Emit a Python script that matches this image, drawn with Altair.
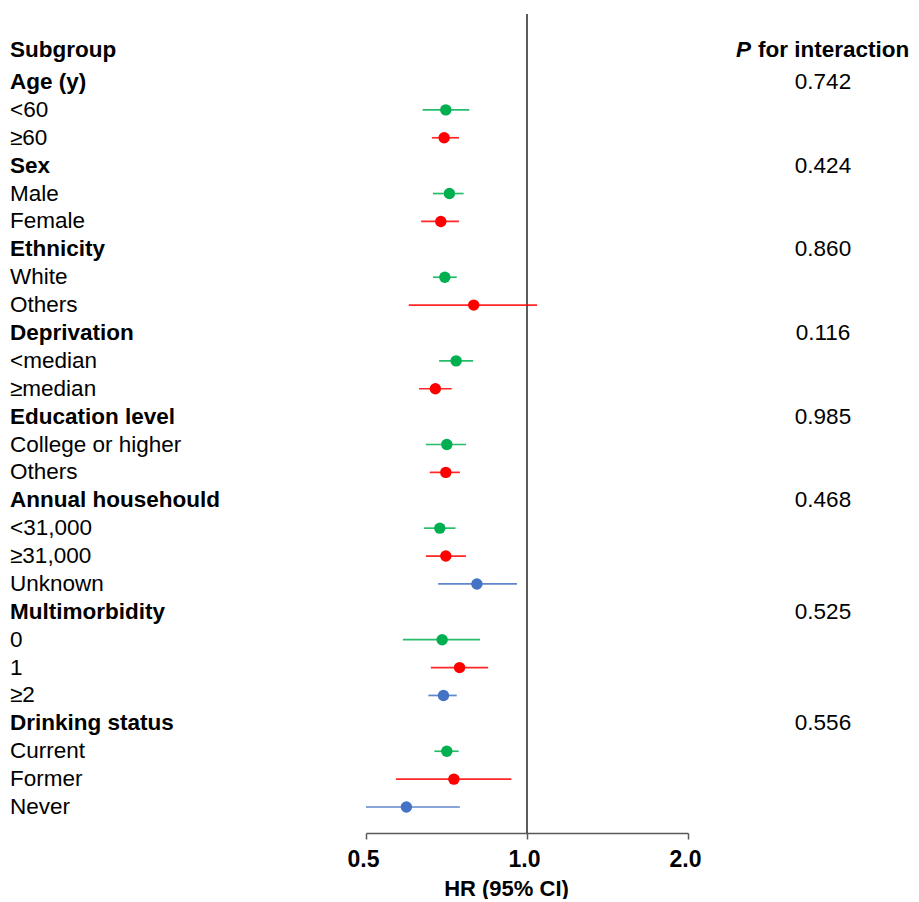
import altair as alt
import pandas as pd

labels = ["Age (y)", "<60", "≥60", "Sex", "Male", "Female", "Ethnicity", "White", "Others",
          "Deprivation", "<median", "≥median", "Education level", "College or higher", "Others",
          "Annual househould", "<31,000", "≥31,000", "Unknown", "Multimorbidity", "0", "1", "≥2",
          "Drinking status", "Current", "Former", "Never"]
is_header = [True, False, False, True, False, False, True, False, False,
             True, False, False, True, False, False,
             True, False, False, False, True, False, False, False,
             True, False, False, False]
hr = [None, 0.705, 0.700, None, 0.716, 0.690, None, 0.702, 0.795,
      None, 0.737, 0.674, None, 0.708, 0.705,
      None, 0.687, 0.705, 0.806, None, 0.694, 0.748, 0.698,
      None, 0.708, 0.730, 0.595]
lo = [None, 0.638, 0.664, None, 0.667, 0.634, None, 0.667, 0.601,
      None, 0.685, 0.628, None, 0.647, 0.658,
      None, 0.642, 0.647, 0.682, None, 0.586, 0.661, 0.654,
      None, 0.671, 0.569, 0.500]
hi = [None, 0.780, 0.746, None, 0.761, 0.746, None, 0.739, 1.044,
      None, 0.793, 0.723, None, 0.769, 0.749,
      None, 0.735, 0.769, 0.958, None, 0.817, 0.846, 0.739,
      None, 0.745, 0.935, 0.749]
level = [0, 1, 2, 0, 1, 2, 0, 1, 2,
         0, 1, 2, 0, 1, 2,
         0, 1, 2, 3, 0, 1, 2, 3,
         0, 1, 2, 3]
p_interaction = ["0.742", "0.424", "0.860", "0.116", "0.985", "0.468", "0.525", "0.556"]

level_names = ["g1", "g2", "g3"]
level_colors = ["#00B050", "#FF0000", "#4472C4"]

rows = []
pi = 0
for i, lab in enumerate(labels):
    p = ""
    if is_header[i]:
        p = p_interaction[pi]
        pi += 1
    rows.append({
        "row": i, "label": lab, "header": is_header[i],
        "hr": hr[i], "lo": lo[i], "hi": hi[i],
        "grp": level_names[level[i] - 1] if level[i] > 0 else "",
        "p": p,
    })
df = pd.DataFrame(rows)
pts = df[df["hr"].notna()]
hdr = df[df["header"]]
sub = df[~df["header"]]

FONT = "Liberation Sans"
FS = 22.5

xscale = alt.Scale(type="log", base=2, domain=[0.5, 2.0], nice=False)
yscale = alt.Scale(domain=[-2.4386, 26.932], reverse=True, nice=False, zero=False)
ycol = alt.Y("row:Q", scale=yscale, axis=None)
cscale = alt.Scale(domain=level_names, range=level_colors)

xaxis = alt.Axis(values=[0.5, 1.0, 2.0], format=".1f", grid=False, labelFlush=False,
                 labelOffset=-3,
                 labelFont=FONT, labelFontSize=23, labelFontWeight="bold", labelColor="black",
                 labelPadding=9, tickSize=6, tickWidth=1.5, tickColor="#595959",
                 domainColor="#595959", domainWidth=1.5,
                 title="HR (95% CI)", titleFont=FONT, titleFontSize=22, titleFontWeight="bold",
                 titleColor="black", titleX=140, titleY=55, titleBaseline="middle")

ref = alt.Chart(pd.DataFrame({"x": [1.0]})).mark_rule(color="#262626", strokeWidth=1.5).encode(
    x=alt.X("x:Q", scale=xscale, axis=xaxis)
)

ci = alt.Chart(pts).mark_rule(strokeWidth=1.7, opacity=0.85).encode(
    x=alt.X("lo:Q", scale=xscale),
    x2="hi:Q",
    y=ycol,
    color=alt.Color("grp:N", scale=cscale, legend=None),
)

dots = alt.Chart(pts).mark_circle(size=130, opacity=1).encode(
    x=alt.X("hr:Q", scale=xscale),
    y=ycol,
    color=alt.Color("grp:N", scale=cscale, legend=None),
)

hdr_text = alt.Chart(hdr).mark_text(align="left", baseline="middle", font=FONT, fontSize=FS,
                                    fontWeight="bold", color="black").encode(
    x=alt.value(-356), y=ycol, text="label:N"
)
sub_text = alt.Chart(sub).mark_text(align="left", baseline="middle", font=FONT, fontSize=FS,
                                    color="black").encode(
    x=alt.value(-356), y=ycol, text="label:N"
)
p_text = alt.Chart(hdr).mark_text(align="center", baseline="middle", font=FONT, fontSize=FS,
                                  color="black").encode(
    x=alt.value(457), y=ycol, text="p:N"
)

title_df = pd.DataFrame({"t": ["Subgroup"]})
sg_text = alt.Chart(title_df).mark_text(align="left", baseline="middle", font=FONT, fontSize=FS,
                                        fontWeight="bold", color="black").encode(
    x=alt.value(-356), y=alt.value(36), text="t:N"
)
p_df = pd.DataFrame({"t": ["P"]})
p_head = alt.Chart(p_df).mark_text(align="left", baseline="middle", font=FONT, fontSize=FS,
                                   fontWeight="bold", fontStyle="italic", color="black").encode(
    x=alt.value(370), y=alt.value(36), text="t:N"
)
fi_df = pd.DataFrame({"t": ["for interaction"]})
fi_head = alt.Chart(fi_df).mark_text(align="left", baseline="middle", font=FONT, fontSize=FS,
                                     fontWeight="bold", color="black").encode(
    x=alt.value(392), y=alt.value(36), text="t:N"
)

chart = alt.layer(ref, ci, dots, hdr_text, sub_text, p_text, sg_text, p_head, fi_head).properties(
    width=322, height=819,
    autosize=alt.AutoSizeParams(type="none"),
    padding={"left": 358, "top": 6, "right": 223, "bottom": 66},
    background="white",
).configure_view(stroke=None)

chart.save("out.html", embed_options={"renderer": "svg", "actions": False})
